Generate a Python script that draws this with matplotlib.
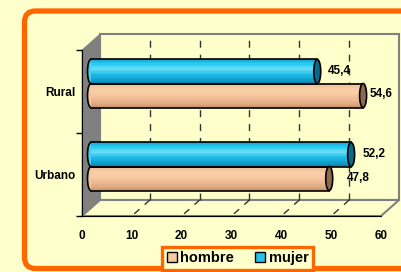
import matplotlib
matplotlib.use("Agg")
import matplotlib.pyplot as plt
from matplotlib import transforms as mtransforms
from matplotlib.patches import Polygon, Ellipse, FancyBboxPatch, Rectangle, Patch
from matplotlib.colors import LinearSegmentedColormap

categories = ["Urbano", "Rural"]
hombre = [47.8, 54.6]
mujer = [52.2, 45.4]
x_ticks = [0, 10, 20, 30, 40, 50, 60]

BG = "#FFFFCC"
ORANGE = "#FF6600"
W, H = 402, 272

plt.rcParams["font.family"] = ["Liberation Sans", "DejaVu Sans"]
plt.rcParams["font.weight"] = "bold"

fig = plt.figure(figsize=(W / 100, H / 100), dpi=100, facecolor=BG)

# front plane of the fake 3d box, in pixels
x0, x1, ytop, ybot = 82, 381, 50, 216
ax = fig.add_axes([x0 / W, 1 - ybot / H, (x1 - x0) / W, (ybot - ytop) / H])
ax.set_xlim(0, 60)
ax.set_ylim(-0.5, len(categories) - 0.5)
ax.patch.set_visible(False)

depth = (18, 16)


def shifted(k):
    return ax.transData + mtransforms.Affine2D().translate(depth[0] * k, depth[1] * k)


back = shifted(1.0)
mid = shifted(0.5)
pix = mtransforms.IdentityTransform()


def to_pix(pts, k=0.0):
    out = ax.transData.transform(pts)
    out[:, 0] += depth[0] * k
    out[:, 1] += depth[1] * k
    return out


y_lo, y_hi = ax.get_ylim()
xmax = ax.get_xlim()[1]

# walls
ax.add_patch(Rectangle((0, y_lo), xmax, y_hi - y_lo, transform=back, fc=BG,
                       ec="#808080", lw=1.5, clip_on=False, zorder=0))
left_wall = list(to_pix([(0, y_lo), (0, y_hi)])) + list(to_pix([(0, y_hi), (0, y_lo)], 1))
ax.add_patch(Polygon(left_wall, closed=True, transform=pix, fc="#808080", ec="#808080",
                     lw=0.5, clip_on=False, zorder=0.5))
floor = list(to_pix([(0, y_lo), (xmax, y_lo)])) + list(to_pix([(xmax, y_lo), (0, y_lo)], 1))
ax.add_patch(Polygon(floor, closed=True, transform=pix, fc=BG, ec="#808080",
                     lw=1.5, clip_on=False, zorder=0.5))

# gridlines on back wall and floor
for xt in x_ticks[1:-1]:
    ax.plot([xt, xt], [y_lo, y_hi], transform=back, color="#333333", lw=1,
            ls=(0, (5, 5)), clip_on=False, zorder=1)
    f = to_pix([(xt, y_lo)])[0]
    b = to_pix([(xt, y_lo)], 1)[0]
    ax.plot([b[0], f[0]], [b[1], f[1]], transform=pix, color="#333333",
            lw=1, ls=(0, (5, 5)), clip_on=False, zorder=1)

# cylinder bars
blue_cmap = LinearSegmentedColormap.from_list(
    "b", ["#1AAAD8", "#28D0F4", "#70DDF6", "#20C0EA", "#14A8D6", "#0A88B4"])
peach_cmap = LinearSegmentedColormap.from_list(
    "p", ["#EDBD96", "#F8CFA8", "#F8CDA6", "#F0BE96", "#E5AF88", "#CC9870"])

h = 0.29
n = 18
series = [
    (mujer, +h / 2, blue_cmap, "#0A6A8C", [(11, 0), (11, 0)]),
    (hombre, -h / 2, peach_cmap, "#8C6A50", [(18, 1), (7, 2)]),
]
cap_w = 1.4
for vals, off, cmap, cap_col, label_off in series:
    for i, v in enumerate(vals):
        yc = i + off
        ax.add_patch(Ellipse((0, yc), cap_w, h, transform=mid, fc=cmap(0.5), ec="k",
                             lw=1.2, clip_on=False, zorder=2))
        for k in range(n):
            yk = yc + h / 2 - (k + 0.5) * h / n
            ax.barh(yk, v, height=h / n, left=0, color=cmap(k / (n - 1)), lw=0,
                    antialiased=False, transform=mid, clip_on=False, zorder=3)
        ax.plot([0, v], [yc + h / 2, yc + h / 2], transform=mid, color="k", lw=1.2,
                clip_on=False, zorder=4)
        ax.plot([0, v], [yc - h / 2, yc - h / 2], transform=mid, color="k", lw=1.2,
                clip_on=False, zorder=4)
        ax.add_patch(Ellipse((v, yc), cap_w, h, transform=mid, fc=cap_col, ec="k",
                             lw=1.2, clip_on=False, zorder=5))
        ax.annotate(f"{v:.1f}".replace(".", ","), xy=(v, yc), xycoords=mid,
                    xytext=label_off[i], textcoords="offset pixels", ha="left",
                    va="center", fontsize=8.5, fontweight="bold", zorder=6)

# axes
for s in ["top", "right"]:
    ax.spines[s].set_visible(False)
ax.spines["left"].set_color("k")
ax.spines["bottom"].set_color("k")
ax.spines["left"].set_zorder(1.5)
ax.spines["bottom"].set_zorder(1.5)
ax.set_xticks(x_ticks)
ax.tick_params(axis="x", length=0, pad=10, labelsize=8.5)
ax.set_yticks([y_lo + i for i in range(len(categories) + 1)])
ax.set_yticklabels([])
ax.tick_params(axis="y", which="major", length=4, width=1, direction="out")
ax.set_yticks(range(len(categories)), minor=True)
ax.set_yticklabels(categories, minor=True)
ax.tick_params(axis="y", which="minor", length=0, pad=5, labelsize=8.5)

# legend
handles = [Patch(fc="#F8C8A0", ec="k", lw=1), Patch(fc="#22C4EE", ec="k", lw=1)]
leg = fig.legend(handles, ["hombre", "mujer"], loc="upper center",
                 bbox_to_anchor=(237.5 / W, 1 - 247 / H), ncol=2, fontsize=10.5,
                 frameon=True, fancybox=False, facecolor=BG, framealpha=1,
                 edgecolor=ORANGE, handlelength=0.7, handleheight=0.7,
                 handletextpad=0.25, columnspacing=1.4, borderpad=0.3,
                 borderaxespad=0)
leg.get_frame().set_linewidth(2.4)

# orange rounded frame
fig.add_artist(FancyBboxPatch((24.5, 3.5), 420, 257.5, boxstyle="round,pad=0,rounding_size=11",
                              transform=pix, fill=False, ec=ORANGE, lw=3.8, zorder=0))

fig.savefig("out.png", dpi=100, facecolor=BG)
